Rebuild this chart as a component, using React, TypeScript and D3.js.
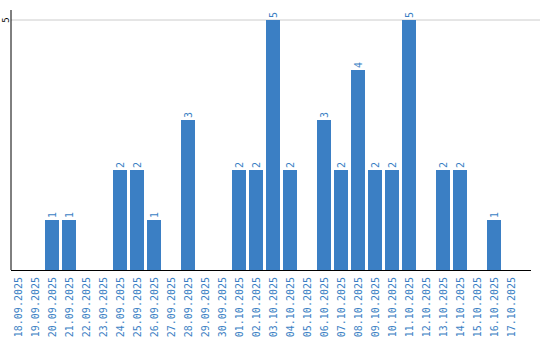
import React from "react";
import * as d3 from "d3";

const categories = [
  "18.09.2025", "19.09.2025", "20.09.2025", "21.09.2025", "22.09.2025",
  "23.09.2025", "24.09.2025", "25.09.2025", "26.09.2025", "27.09.2025",
  "28.09.2025", "29.09.2025", "30.09.2025", "01.10.2025", "02.10.2025",
  "03.10.2025", "04.10.2025", "05.10.2025", "06.10.2025", "07.10.2025",
  "08.10.2025", "09.10.2025", "10.10.2025", "11.10.2025", "12.10.2025",
  "13.10.2025", "14.10.2025", "15.10.2025", "16.10.2025", "17.10.2025",
];
const values = [0, 0, 1, 1, 0, 0, 2, 2, 1, 0, 3, 0, 0, 2, 2, 5, 2, 0, 3, 2, 4, 2, 2, 5, 0, 2, 2, 0, 1, 0];
const yTicks = [5];

const W = 540;
const H = 340;
const left = 11;
const baseY = 270;
const BLUE = "#3b7fc4";
const FONT = "'DejaVu Sans Mono', monospace";

export default function App() {
  const x = d3
    .scaleBand<string>()
    .domain(categories)
    .range([left, left + 17 * 30 - 3])
    .paddingInner(3 / 17)
    .paddingOuter(0);
  const y = d3.scaleLinear().domain([0, 5]).range([baseY, 20]);

  return (
    <div style={{ position: "absolute", left: 0, top: 0 }}>
      <svg width={W} height={H} style={{ display: "block" }}>
        {yTicks.map((t) => (
          <g key={t}>
            <line x1={left} x2={W} y1={y(t)} y2={y(t)} stroke="#cccccc" strokeWidth={1} />
            <text
              transform={`translate(9,${y(t)}) rotate(-90)`}
              textAnchor="middle"
              fontFamily={FONT}
              fontSize={9}
              fill="#000"
            >
              {t}
            </text>
          </g>
        ))}
        {categories.map((c, i) => {
          const v = values[i];
          const bx = x(c)!;
          const cx = bx + x.bandwidth() / 2;
          return (
            <g key={c}>
              {v > 0 && (
                <rect x={bx} y={y(v)} width={x.bandwidth()} height={baseY - y(v)} fill={BLUE} />
              )}
              {v > 0 && (
                <text
                  transform={`translate(${cx + 3.5},${y(v) - 2}) rotate(-90)`}
                  textAnchor="start"
                  fontFamily={FONT}
                  fontSize={10}
                  fill={BLUE}
                >
                  {v}
                </text>
              )}
              <text
                transform={`translate(${cx + 3.5},${baseY + 7}) rotate(-90)`}
                textAnchor="end"
                fontFamily={FONT}
                fontSize={10}
                fill={BLUE}
              >
                {c}
              </text>
            </g>
          );
        })}
        <line x1={left} x2={left} y1={10} y2={baseY} stroke="#000" strokeWidth={1} />
        <line x1={left} x2={531} y1={baseY + 0.5} y2={baseY + 0.5} stroke="#000" strokeWidth={1} />
      </svg>
    </div>
  );
}
